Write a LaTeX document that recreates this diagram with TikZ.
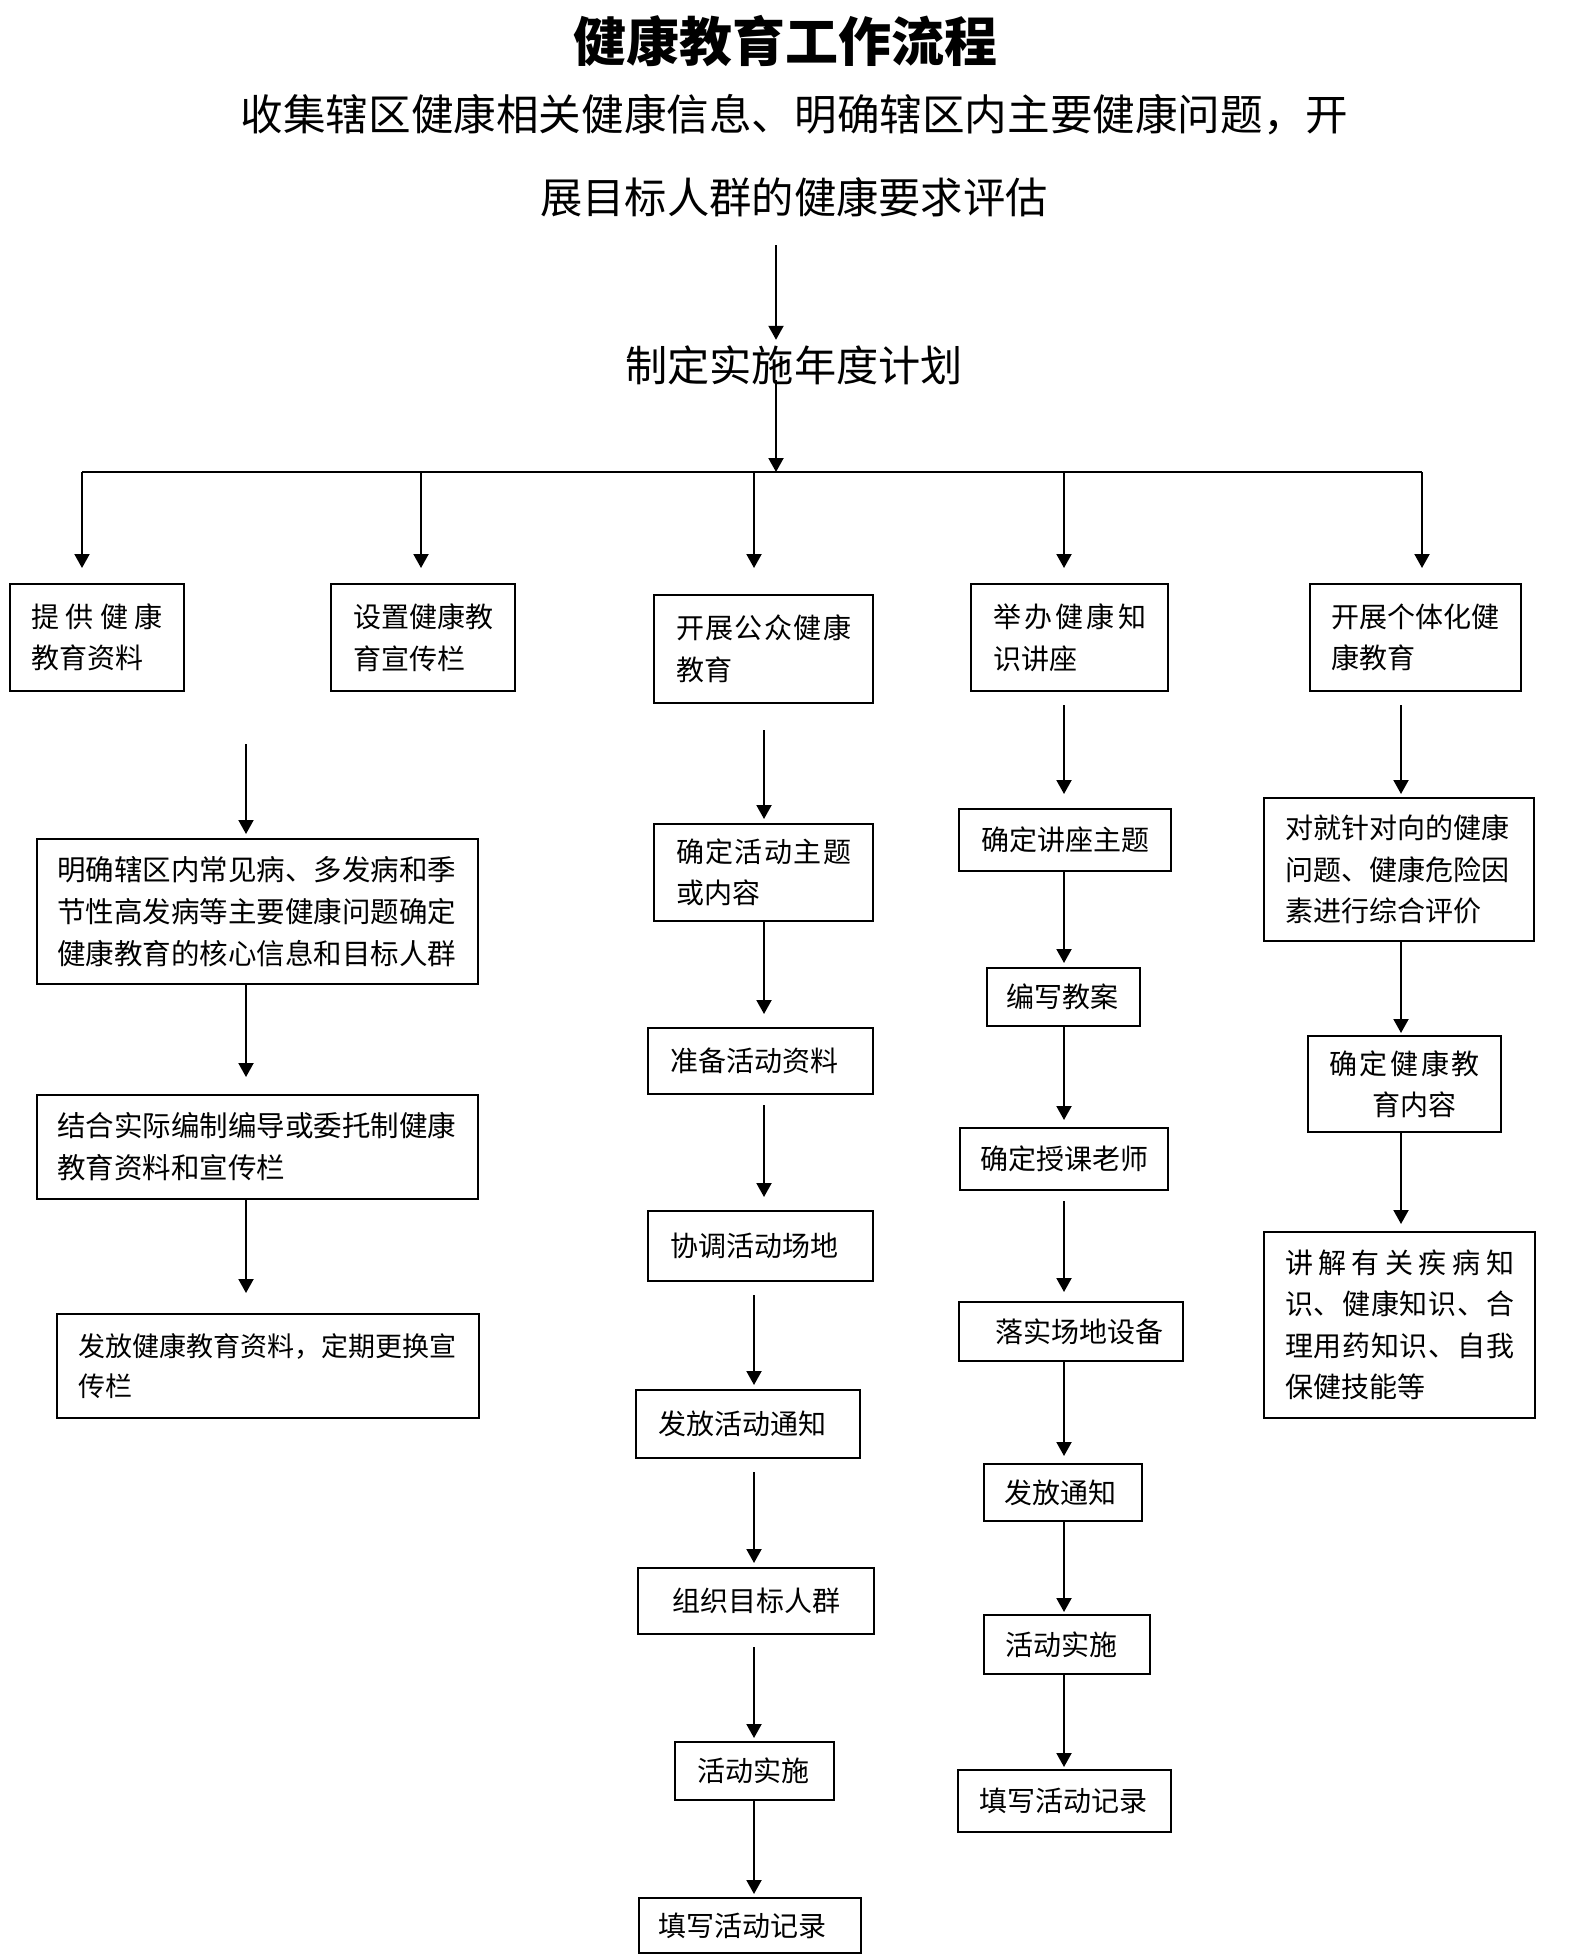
\documentclass[tikz,border=0pt]{standalone}
\usepackage{fontspec}
\newfontfamily\cjk{Noto Sans CJK SC}
\usetikzlibrary{arrows.meta}
\def\sprrest#1{\ifx#1\relax\else\hfil#1\expandafter\sprrest\fi}
\def\sprfirst#1{#1\sprrest}
\newcommand\spl[1]{\leavevmode\hbox to \linewidth{\sprfirst#1\relax}}
\begin{document}
\begin{tikzpicture}[x=1pt,y=-1pt,
  box/.style={draw, line width=2pt, align=left, inner ysep=0pt,
    font=\cjk\fontsize{28}{41.5}\selectfont},
  arr/.style={line width=2pt, -{Triangle[length=14pt,width=15pt]}},
  ln/.style={line width=2pt}]
\useasboundingbox[fill=white] (0,0) rectangle (1587,1959);
% titles
\node[font=\cjk\bfseries\fontsize{53}{60}\selectfont, inner sep=0] (title) at (785,41) {健康教育工作流程};
\node[font=\cjk\fontsize{42.6}{50}\selectfont, inner sep=0] (sub1) at (794.5,115) {收集辖区健康相关健康信息、明确辖区内主要健康问题，开};
\node[font=\cjk\fontsize{42.3}{50}\selectfont, inner sep=0] (sub2) at (794,197) {展目标人群的健康要求评估};
\node[font=\cjk\fontsize{42.2}{50}\selectfont, inner sep=0, minimum height=50pt] (plan) at (794,365) {制定实施年度计划};
% trunk
\coordinate (t1) at (776,245);
\coordinate (t2) at (776,380);
\coordinate (hub) at (776,472);
\coordinate (h1) at (82,472);
\coordinate (h2) at (421,472);
\coordinate (h3) at (754,472);
\coordinate (h4) at (1064,472);
\coordinate (h5) at (1422,472);
\draw[arr] (t1) -- (t1 |- plan.north);
\draw[arr] (t2) -- (hub);
\draw[ln] (h1) -- (h5);
% first row
\node[box, inner xsep=21pt, text width=132pt, minimum height=107pt] (A1) at (97,637.5) {\spl{提供健康}\\教育资料};
\node[box, inner xsep=22pt, text width=140pt, minimum height=107pt] (A2) at (423,637.5) {设置健康教\\育宣传栏};
\node[box, inner xsep=22pt, text width=175pt, minimum height=108pt] (A3) at (763.5,649) {\spl{开展公众健康}\\教育};
\node[box, inner xsep=22pt, text width=153pt, minimum height=107pt] (A4) at (1069.5,637.5) {\spl{举办健康知}\\识讲座};
\node[box, inner xsep=21pt, text width=169pt, minimum height=107pt] (A5) at (1415.5,637.5) {开展个体化健\\康教育};
\draw[arr, shorten >=15pt] (h1) -- (h1 |- A1.north);
\draw[arr, shorten >=15pt] (h2) -- (h2 |- A2.north);
\draw[arr, shorten >=26pt] (h3) -- (h3 |- A3.north);
\draw[arr, shorten >=15pt] (h4) -- (h4 |- A4.north);
\draw[arr, shorten >=15pt] (h5) -- (h5 |- A5.north);
% left column
\node[box, font=\cjk\fontsize{28.5}{42}\selectfont, inner xsep=20pt, text width=401pt, minimum height=145pt] (L1) at (257.5,911.5) {明确辖区内常见病、多发病和季\\节性高发病等主要健康问题确定\\健康教育的核心信息和目标人群};
\node[box, font=\cjk\fontsize{28.5}{42}\selectfont, inner xsep=20pt, text width=401pt, minimum height=104pt] (L2) at (257.5,1147) {结合实际编制编导或委托制健康\\教育资料和宣传栏};
\node[box, font=\cjk\fontsize{27}{40}\selectfont, inner xsep=21pt, text width=380pt, minimum height=104pt] (L3) at (268,1366) {发放健康教育资料，定期更换宣\\传栏};
\coordinate (ls) at (246,744);
\draw[arr, shorten >=4pt] (ls) -- (ls |- L1.north);
\draw[arr, shorten >=17pt] (ls |- L1.south) -- (ls |- L2.north);
\draw[arr, shorten >=20pt] (ls |- L2.south) -- (ls |- L3.north);
% middle column
\node[box, inner xsep=22pt, text width=175pt, minimum height=97pt] (M1) at (763.5,872.5) {\spl{确定活动主题}\\或内容};
\node[box, inner xsep=22pt, text width=181pt, minimum height=66pt] (M2) at (760.5,1061) {准备活动资料};
\node[box, inner xsep=22pt, text width=181pt, minimum height=70pt] (M3) at (760.5,1246) {协调活动场地};
\node[box, inner xsep=22pt, text width=180pt, minimum height=68pt] (M4) at (748,1424) {发放活动通知};
\node[box, inner xsep=34pt, text width=168pt, minimum height=66pt] (M5) at (756,1601) {组织目标人群};
\node[box, inner xsep=22pt, text width=115pt, minimum height=58pt] (M6) at (754.5,1771) {活动实施};
\node[box, inner xsep=19pt, text width=184pt, minimum height=55pt] (M7) at (750,1925.5) {填写活动记录};
\coordinate (mx) at (764,0);
\coordinate (my) at (754,0);
\draw[arr, shorten <=26pt, shorten >=4pt] (mx |- A3.south) -- (mx |- M1.north);
\draw[arr, shorten >=13pt] (mx |- M1.south) -- (mx |- M2.north);
\draw[arr, shorten <=10pt, shorten >=13pt] (mx |- M2.south) -- (mx |- M3.north);
\draw[arr, shorten <=13pt, shorten >=4pt] (my |- M3.south) -- (my |- M4.north);
\draw[arr, shorten <=13pt, shorten >=4pt] (my |- M4.south) -- (my |- M5.north);
\draw[arr, shorten <=12pt, shorten >=3pt] (my |- M5.south) -- (my |- M6.north);
\draw[arr, shorten >=3pt] (my |- M6.south) -- (my |- M7.north);
% lecture column
\node[box, inner xsep=22pt, text width=168pt, minimum height=62pt] (R1) at (1065,840) {确定讲座主题};
\node[box, inner xsep=19pt, text width=115pt, minimum height=58pt] (R2) at (1063.5,997) {编写教案};
\node[box, inner xsep=20pt, text width=168pt, minimum height=62pt] (R3) at (1064,1159) {确定授课老师};
\node[box, inner xsep=36pt, text width=152pt, minimum height=59pt] (R4) at (1071,1331.5) {落实场地设备};
\node[box, inner xsep=20pt, text width=118pt, minimum height=57pt] (R5) at (1063,1492.5) {发放通知};
\node[box, inner xsep=21pt, text width=124pt, minimum height=59pt] (R6) at (1067,1644.5) {活动实施};
\node[box, inner xsep=21pt, text width=171pt, minimum height=62pt] (R7) at (1064.5,1801) {填写活动记录};
\coordinate (rx) at (1064,0);
\draw[arr, shorten <=13pt, shorten >=14pt] (rx |- A4.south) -- (rx |- R1.north);
\draw[arr, shorten >=4pt] (rx |- R1.south) -- (rx |- R2.north);
\draw[arr, shorten >=7pt] (rx |- R2.south) -- (rx |- R3.north);
\draw[arr, shorten <=10pt, shorten >=9pt] (rx |- R3.south) -- (rx |- R4.north);
\draw[arr, shorten >=7pt] (rx |- R4.south) -- (rx |- R5.north);
\draw[arr, shorten >=2pt] (rx |- R5.south) -- (rx |- R6.north);
\draw[arr, shorten >=2pt] (rx |- R6.south) -- (rx |- R7.north);
% individual column
\node[box, inner xsep=21pt, text width=228pt, minimum height=143pt] (F1) at (1399,869.5) {对就针对向的健康\\问题、健康危险因\\素进行综合评价};
\node[box, inner xsep=21pt, text width=151pt, minimum height=96pt] (F2) at (1404.5,1084) {\spl{确定健康教}\\\hspace*{43pt}育内容};
\node[box, inner xsep=21pt, text width=229pt, minimum height=186pt] (F3) at (1399.5,1325) {\spl{讲解有关疾病知}\\\spl{识、健康知识、合}\\\spl{理用药知识、自我}\\保健技能等};
\coordinate (fx) at (1401,0);
\draw[arr, shorten <=13pt, shorten >=3pt] (fx |- A5.south) -- (fx |- F1.north);
\draw[arr, shorten >=2pt] (fx |- F1.south) -- (fx |- F2.north);
\draw[arr, shorten >=7pt] (fx |- F2.south) -- (fx |- F3.north);
\end{tikzpicture}
\end{document}
